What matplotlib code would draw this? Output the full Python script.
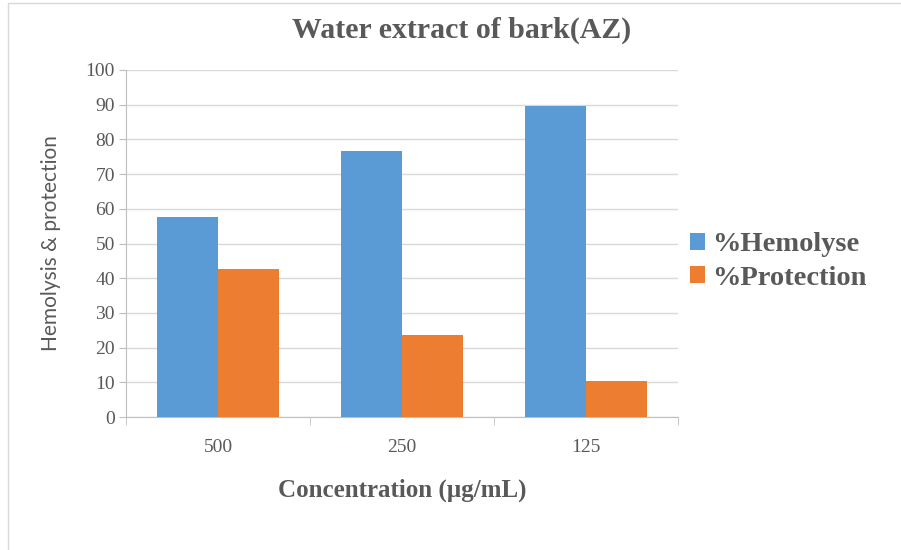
import numpy as np
import matplotlib.pyplot as plt
from matplotlib.patches import Rectangle

# Data
concentrations = ['500', '250', '125']
hemolyse = [57.5, 76.8, 89.5]
protection = [42.6, 23.5, 10.5]

blue = '#5B9BD5'
orange = '#ED7D31'
text_gray = '#595959'
serif = ['Liberation Serif', 'DejaVu Serif']
sans = ['Lato', 'DejaVu Sans']

fig = plt.figure(figsize=(9.01, 5.5), dpi=100)
# light frame of the chart area
fig.patches.append(Rectangle((8 / 901, -0.1), 1.1, 1.1 - 3 / 550,
                             transform=fig.transFigure, fill=False,
                             edgecolor='#D9D9D9', lw=1.0))

ax = fig.add_axes([126 / 901, 1 - 417 / 550, (678 - 126) / 901, (417 - 70) / 550])

x = np.arange(len(concentrations))
w = 0.333
ax.bar(x - w / 2, hemolyse, w, color=blue, label='%Hemolyse', zorder=3)
ax.bar(x + w / 2, protection, w, color=orange, label='%Protection', zorder=3)

ax.set_xlim(-0.5, 2.5)
ax.set_ylim(0, 100)
ax.set_yticks(np.arange(0, 101, 10))
ax.grid(axis='y', color='#D9D9D9', lw=1, zorder=0)

# category separator ticks on the x axis
ax.set_xticks(x)
ax.set_xticklabels(concentrations, fontfamily=serif, fontsize=14, color=text_gray)
ax.set_xticks([-0.5, 0.5, 1.5, 2.5], minor=True)
ax.tick_params(axis='x', which='major', length=0, pad=16)
ax.tick_params(axis='x', which='minor', length=6, color='#BFBFBF', direction='out')
ax.tick_params(axis='y', length=5, color='#BFBFBF', labelsize=14, labelcolor=text_gray, pad=3)
for lab in ax.get_yticklabels():
    lab.set_fontfamily(serif)

for s in ['top', 'right']:
    ax.spines[s].set_visible(False)
ax.spines['left'].set_color('#BFBFBF')
ax.spines['bottom'].set_color('#BFBFBF')

ax.set_ylabel('Hemolysis & protection', fontfamily=sans, fontsize=15, color=text_gray, labelpad=18)
ax.set_xlabel('Concentration (\u00b5g/mL)', fontfamily=serif, fontsize=18, fontweight='bold',
              color=text_gray, labelpad=16)

fig.text(462 / 901, 1 - 30 / 550, 'Water extract of bark(AZ)', ha='center', va='center',
         fontfamily=serif, fontsize=21.5, fontweight='bold', color=text_gray)

leg = ax.legend(loc='center left', bbox_to_anchor=(0.975, 0.448), frameon=False,
                prop={'family': serif, 'size': 20.5, 'weight': 'bold'},
                handlelength=0.55, handleheight=0.55, handletextpad=0.25, labelspacing=0.3)
for t in leg.get_texts():
    t.set_color(text_gray)

fig.savefig('out.png', dpi=100)
